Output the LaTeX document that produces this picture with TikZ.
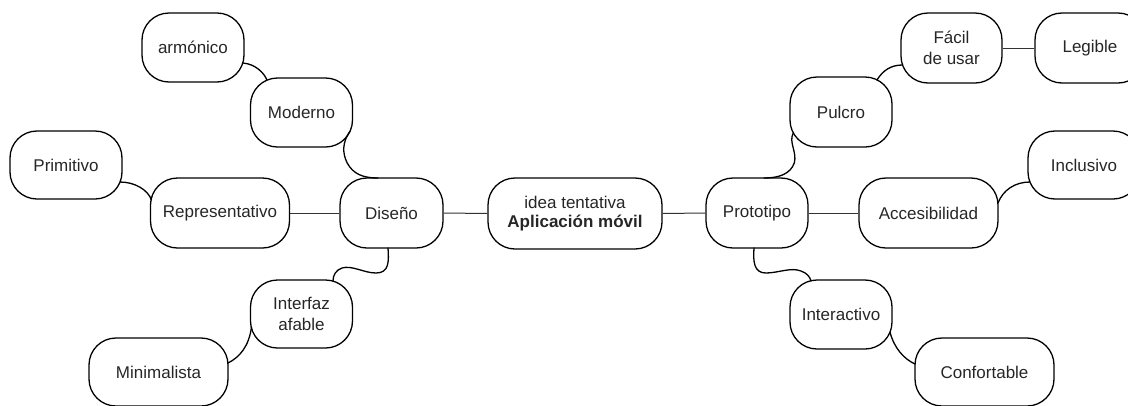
\documentclass[tikz,border=0pt]{standalone}
\usepackage{fontspec}
\setmainfont{Liberation Sans}
\usetikzlibrary{calc}
\tikzset{
  bub/.style={draw=black, line width=1.3pt, rounded corners=27pt, inner sep=0pt,
    align=center, font=\fontsize{17}{21.5}\selectfont, text=black!85},
  sm/.style={bub, minimum width=102pt, minimum height=69pt},
  wd/.style={bub, minimum width=139pt, minimum height=70pt},
  link/.style={draw=black, line width=1.3pt, line cap=round},
  straight/.style={draw=black!80, line width=1pt}
}
\begin{document}
\begin{tikzpicture}[x=1pt,y=-1pt]
\useasboundingbox (0,0) rectangle (1128,405);
\clip (0,0) rectangle (1128,405);
% nodes
\node[sm] (arm) at (193,47.5) {armónico};
\node[sm] (mod) at (301.5,112.5) {Moderno};
\node[sm, minimum width=112pt, minimum height=68pt] (pri) at (66,165) {Primitivo};
\node[wd] (rep) at (220,213) {Representativo};
\node[sm, minimum width=103pt, minimum height=70pt] (dis) at (391.5,213) {Diseño};
\node[sm, minimum height=68pt] (int) at (301.5,314) {Interfaz\\afable};
\node[wd, minimum height=68pt] (min) at (158.5,372) {Minimalista};
\node[bub, minimum width=174pt, minimum height=71pt, font=\fontsize{17}{19}\selectfont] (cen) at (575,213.5) {idea tentativa\\\textbf{Aplicación móvil}};
\node[sm, minimum height=70pt] (pro) at (757,213) {Prototipo};
\node[wd] (acc) at (928.5,213) {Accesibilidad};
\node[sm, minimum height=70pt] (pul) at (841,112) {Pulcro};
\node[sm, minimum width=101pt, minimum height=70pt] (fac) at (951.5,48) {Fácil\\de usar};
\node[sm, minimum width=110pt, minimum height=70pt] (leg) at (1090,48) {Legible};
\node[sm, minimum width=112pt, minimum height=68pt] (inc) at (1084,165) {Inclusivo};
\node[sm] (inter) at (841,314.5) {Interactivo};
\node[wd, minimum height=68pt] (conf) at (984.5,372) {Confortable};
% straight links
\draw[straight] (rep.east) -- (dis.west);
\draw[straight] (dis.east) -- (cen.west);
\draw[straight] (cen.east) -- (pro.west);
\draw[straight] (pro.east) -- (acc.west);
\draw[straight] (fac.east) -- (leg.west);
% curved links
\draw[link] ([shift={(50,15.5)}]arm.center) .. controls +(12,1) and +(-3,-7.5) .. ([shift={(-34.5,-32.4)}]mod.center);
\draw[link] ([shift={(48.7,18.5)}]mod.center) .. controls +(-8,11) and +(-5,-10) .. ++(-3,32)
  .. controls +(6,11) and +(-15,0) .. ([shift={(-13.5,-35)}]dis.center);
\draw[link] ([shift={(54,17)}]pri.center) .. controls +(15,0) and +(-3.5,-10) .. ([shift={(-68.5,-13)}]rep.center);
\draw[link] ([shift={(-3.5,35)}]dis.center) .. controls +(1,14) and +(13,0) .. ++(-12,25)
  .. controls +(-12,0) and +(10,-3) .. ++(-34,-5)
  .. controls +(-6,2) and +(0,-6) .. ([shift={(31.5,-33)}]int.center);
\draw[link] ([shift={(-50,13)}]int.center) .. controls +(-2.5,19) and +(12,-6) .. ([shift={(69.5,-9)}]min.center);
\draw[link] ([shift={(-47.7,21)}]pul.center) .. controls +(-5,9) and +(3,-11) .. ++(1,30)
  .. controls +(-4,11) and +(15,0) .. ([shift={(7,-35)}]pro.center);
\draw[link] ([shift={(-3,35)}]pro.center) .. controls +(-1,14) and +(-12,0) .. ++(12,25)
  .. controls +(12,0) and +(-10,-4) .. ++(35,-2)
  .. controls +(6,2) and +(-1,-4) .. ([shift={(-30,-33.5)}]inter.center);
\draw[link] ([shift={(36,-32)}]pul.center) .. controls +(6,-10) and +(-11,0) .. ([shift={(-49,17)}]fac.center);
\draw[link] ([shift={(69.5,-10)}]acc.center) .. controls +(5,-13) and +(-15,0) .. ([shift={(-54,17)}]inc.center);
\draw[link] ([shift={(49,17.5)}]inter.center) .. controls +(4,16) and +(-11,-5) .. ([shift={(-69.5,-8)}]conf.center);
\end{tikzpicture}
\end{document}
